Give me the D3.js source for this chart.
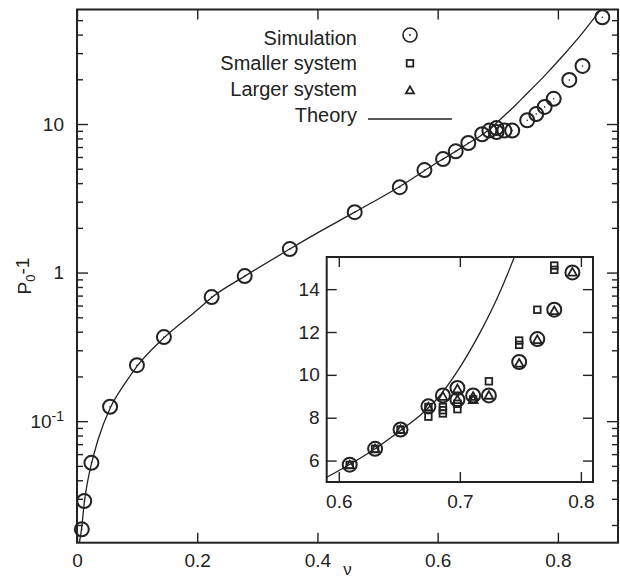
<!DOCTYPE html>
<html><head><meta charset="utf-8">
<script src="https://cdn.jsdelivr.net/npm/d3@7"></script>
<style>
body{margin:0;background:#fff}
text{font-family:"Liberation Sans",Arial,Helvetica,sans-serif;fill:#222}
</style>
</head><body>
<svg id="c" width="620" height="580"></svg>
<script>
// ---------- data ----------
const simX = [0.008, 0.012, 0.024, 0.055, 0.0997, 0.1446, 0.224, 0.279, 0.354, 0.462, 0.537, 0.578, 0.609, 0.63, 0.651, 0.674, 0.686, 0.698, 0.698, 0.711, 0.724, 0.749, 0.764, 0.778, 0.793, 0.819, 0.841, 0.874];
const simY = [0.0187, 0.029, 0.0524, 0.125, 0.238, 0.368, 0.684, 0.947, 1.44, 2.55, 3.76, 4.9, 5.81, 6.55, 7.45, 8.53, 9.04, 9.39, 8.84, 9.04, 9.04, 10.6, 11.67, 13.04, 14.78, 19.8, 24.6, 52.3];

const theoryX = [0.004, 0.008, 0.012, 0.018, 0.024, 0.035, 0.055, 0.08, 0.1, 0.145, 0.2, 0.224, 0.28, 0.354, 0.4, 0.462, 0.537, 0.578, 0.59, 0.61, 0.63, 0.652, 0.668, 0.683, 0.696, 0.716, 0.731, 0.745, 0.758, 0.78, 0.808, 0.84, 0.872];
const theoryY = [0.0152, 0.0195, 0.028, 0.04, 0.0515, 0.075, 0.122, 0.18, 0.235, 0.365, 0.56, 0.68, 0.95, 1.44, 1.85, 2.55, 3.8, 4.85, 5.22, 5.85, 6.55, 7.45, 8.15, 9.0, 10.0, 11.9, 13.6, 15.5, 17.5, 21.6, 28.7, 40.6, 59.5];

const insetSimX = [0.609, 0.63, 0.651, 0.674, 0.686, 0.698, 0.698, 0.711, 0.724, 0.749, 0.764, 0.778, 0.793];
const insetSimY = [5.81, 6.55, 7.45, 8.53, 9.04, 9.39, 8.84, 9.04, 9.04, 10.6, 11.67, 13.04, 14.78];

const smallX = [0.609, 0.63, 0.651, 0.674, 0.674, 0.686, 0.686, 0.686, 0.698, 0.698, 0.711, 0.724, 0.749, 0.749, 0.764, 0.778, 0.778];
const smallY = [5.8, 6.55, 7.45, 8.5, 8.05, 8.5, 8.35, 8.2, 8.65, 8.4, 8.85, 9.7, 11.4, 11.6, 13.04, 14.9, 15.1];

const largeX = [0.609, 0.63, 0.651, 0.674, 0.686, 0.698, 0.698, 0.711, 0.711, 0.724, 0.749, 0.764, 0.778, 0.793];
const largeY = [5.8, 6.55, 7.45, 8.5, 9.0, 9.35, 8.85, 9.0, 8.85, 9.05, 10.55, 11.65, 13.0, 14.8];

const xTicks = [0, 0.2, 0.4, 0.6, 0.8];
const yMajorTicks = [0.1, 1, 10];
const insetXTicks = [0.6, 0.7, 0.8];
const insetYTicks = [6, 8, 10, 12, 14];
const legendLabels = ["Simulation", "Smaller system", "Larger system", "Theory"];

// ---------- layout ----------
const svg = d3.select("#c");
const L = 77, R = 618, T = 9.5, B = 542.7;
const x = d3.scaleLinear().domain([0, 0.9]).range([L, R]);
const y = d3.scaleLog().domain([0.0152, 59]).range([B, T]);

const iL = 326.7, iR = 593, iT = 257, iB = 482;
const xi = d3.scaleLinear().domain([0.59, 0.81]).range([iL, iR]);
const yi = d3.scaleLinear().domain([5, 15.5]).range([iB, iT]);

const ink = "#222";
const FS = 19;

// minor log ticks
const yMinor = [];
for (let e = -2; e <= 1; e++) for (let k = 2; k <= 9; k++) {
  const v = k * Math.pow(10, e);
  if (v > 0.0152 && v < 59) yMinor.push(v);
}

const defs = svg.append("defs");
defs.append("clipPath").attr("id", "mainClip").append("rect")
  .attr("x", L).attr("y", T).attr("width", R - L).attr("height", B - T);
defs.append("clipPath").attr("id", "insClip").append("rect")
  .attr("x", iL).attr("y", iT).attr("width", iR - iL).attr("height", iB - iT);

function styleAxis(g) {
  g.select(".domain").remove();
  g.attr("font-size", FS).attr("font-family", null).attr("color", ink);
  g.selectAll(".tick line").attr("stroke-width", 1.4);
}

// ---------- main axes ----------
const fmtX = d => d === 0 ? "0" : d3.format(".1f")(d);
svg.append("g").attr("transform", `translate(0,${B})`)
  .call(d3.axisBottom(x).tickValues(xTicks).tickSize(-10).tickPadding(11).tickFormat(fmtX))
  .call(styleAxis);
svg.append("g").attr("transform", `translate(0,${T})`)
  .call(d3.axisTop(x).tickValues(xTicks).tickSize(-10).tickFormat(""))
  .call(styleAxis);

const gl = svg.append("g").attr("transform", `translate(${L},0)`)
  .call(d3.axisLeft(y).tickValues(yMajorTicks).tickSize(-11).tickPadding(13)
    .tickFormat(d => d === 0.1 ? "" : d3.format("d")(d)))
  .call(styleAxis);
gl.selectAll(".tick text").each(function(d) {
  if (d === 0.1) {
    const t = d3.select(this);
    t.append("tspan").text("10");
    t.append("tspan").attr("dy", "-0.5em").attr("font-size", 14).text("-1");
  }
});
svg.append("g").attr("transform", `translate(${L},0)`)
  .call(d3.axisLeft(y).tickValues(yMinor).tickSize(-6).tickFormat(""))
  .call(styleAxis);
svg.append("g").attr("transform", `translate(${R},0)`)
  .call(d3.axisRight(y).tickValues(yMajorTicks).tickSize(-11).tickFormat(""))
  .call(styleAxis);
svg.append("g").attr("transform", `translate(${R},0)`)
  .call(d3.axisRight(y).tickValues(yMinor).tickSize(-6).tickFormat(""))
  .call(styleAxis);

// axis titles
svg.append("text").attr("x", (L + R) / 2).attr("y", 575).attr("text-anchor", "middle")
  .attr("font-size", 17).text("ν");
const yl = svg.append("text").attr("transform", `translate(31,${(T + B) / 2}) rotate(-90)`)
  .attr("text-anchor", "middle").attr("font-size", FS);
yl.append("tspan").text("P");
yl.append("tspan").attr("font-size", 13).attr("dy", "0.3em").text("0");
yl.append("tspan").attr("dy", "-0.3em").text("-1");

// ---------- main theory + simulation ----------
const theory = theoryX.map((v, i) => [v, theoryY[i]]);
svg.append("path").attr("clip-path", "url(#mainClip)")
  .attr("d", d3.line().x(d => x(d[0])).y(d => y(d[1])).curve(d3.curveMonotoneX)(theory))
  .attr("fill", "none").attr("stroke", ink).attr("stroke-width", 1.3);

const sim = simX.map((v, i) => [v, simY[i]]);
const gs = svg.append("g");
gs.selectAll("circle.o").data(sim).join("circle")
  .attr("cx", d => x(d[0])).attr("cy", d => y(d[1])).attr("r", 7)
  .attr("fill", "none").attr("stroke", ink).attr("stroke-width", 2);
gs.selectAll("circle.d").data(sim).join("circle").attr("class", "d")
  .attr("cx", d => x(d[0])).attr("cy", d => y(d[1])).attr("r", 0.8).attr("fill", ink);

// frame
svg.append("rect").attr("x", L).attr("y", T).attr("width", R - L).attr("height", B - T)
  .attr("fill", "none").attr("stroke", ink).attr("stroke-width", 2);

// ---------- legend ----------
const legX = 357, symX = 410;
const legBase = [44.5, 70.3, 96, 121.7];
legendLabels.forEach((t, i) => {
  svg.append("text").attr("x", legX).attr("y", legBase[i]).attr("text-anchor", "end")
    .attr("font-size", 20).text(t);
});
svg.append("circle").attr("cx", symX).attr("cy", 35).attr("r", 7)
  .attr("fill", "none").attr("stroke", ink).attr("stroke-width", 1.6);
svg.append("circle").attr("cx", symX).attr("cy", 35).attr("r", 0.9).attr("fill", ink);
svg.append("rect").attr("x", symX - 3.3).attr("y", 63.3 - 3.3).attr("width", 6.6).attr("height", 6.6)
  .attr("fill", "none").attr("stroke", ink).attr("stroke-width", 1.8);
svg.append("path").attr("d", d3.symbol(d3.symbolTriangle, 28)())
  .attr("transform", `translate(${symX},${91})`)
  .attr("fill", "#fff").attr("stroke", ink).attr("stroke-width", 1.8);
svg.append("line").attr("x1", 368).attr("x2", 452).attr("y1", 119).attr("y2", 119)
  .attr("stroke", ink).attr("stroke-width", 1.3);

// ---------- inset ----------
svg.append("rect").attr("x", iL).attr("y", iT).attr("width", iR - iL).attr("height", iB - iT)
  .attr("fill", "#fff");

svg.append("g").attr("transform", `translate(0,${iB})`)
  .call(d3.axisBottom(xi).tickValues(insetXTicks).tickSize(-10).tickPadding(13).tickFormat(d3.format(".1f")))
  .call(styleAxis);
svg.append("g").attr("transform", `translate(0,${iT})`)
  .call(d3.axisTop(xi).tickValues(insetXTicks).tickSize(-10).tickFormat(""))
  .call(styleAxis);
svg.append("g").attr("transform", `translate(${iL},0)`)
  .call(d3.axisLeft(yi).tickValues(insetYTicks).tickSize(-10).tickPadding(7).tickFormat(d3.format("d")))
  .call(styleAxis);
svg.append("g").attr("transform", `translate(${iR},0)`)
  .call(d3.axisRight(yi).tickValues(insetYTicks).tickSize(-10).tickFormat(""))
  .call(styleAxis);

svg.append("path").attr("clip-path", "url(#insClip)")
  .attr("d", d3.line().x(d => xi(d[0])).y(d => yi(d[1])).curve(d3.curveMonotoneX)(theory))
  .attr("fill", "none").attr("stroke", ink).attr("stroke-width", 1.3);

const gi = svg.append("g").attr("clip-path", "url(#insClip)");
const small = smallX.map((v, i) => [v, smallY[i]]);
gi.selectAll("rect.s").data(small).join("rect").attr("class", "s")
  .attr("x", d => xi(d[0]) - 3.3).attr("y", d => yi(d[1]) - 3.3)
  .attr("width", 6.6).attr("height", 6.6)
  .attr("fill", "none").attr("stroke", ink).attr("stroke-width", 1.8);
const large = largeX.map((v, i) => [v, largeY[i]]);
gi.selectAll("path.t").data(large).join("path").attr("class", "t")
  .attr("d", d3.symbol(d3.symbolTriangle, 34)())
  .attr("transform", d => `translate(${xi(d[0])},${yi(d[1]) + 1})`)
  .attr("fill", "none").attr("stroke", ink).attr("stroke-width", 1.8);
const isim = insetSimX.map((v, i) => [v, insetSimY[i]]);
gi.selectAll("circle.o").data(isim).join("circle").attr("class", "o")
  .attr("cx", d => xi(d[0])).attr("cy", d => yi(d[1])).attr("r", 7)
  .attr("fill", "none").attr("stroke", ink).attr("stroke-width", 2);

svg.append("rect").attr("x", iL).attr("y", iT).attr("width", iR - iL).attr("height", iB - iT)
  .attr("fill", "none").attr("stroke", ink).attr("stroke-width", 2);
</script>
</body></html>
